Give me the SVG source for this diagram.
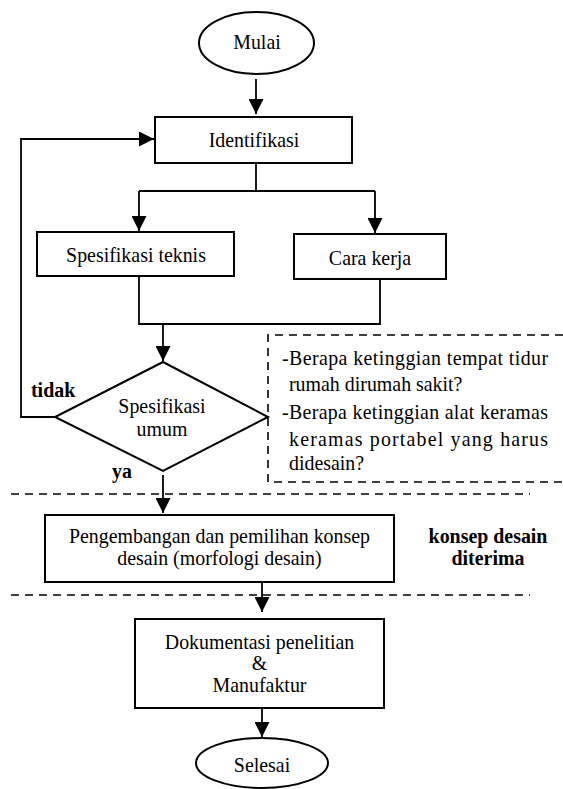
<svg xmlns="http://www.w3.org/2000/svg" width="563" height="789" viewBox="0 0 563 789">
<defs>
<style>
.box{fill:#fff;stroke:#000;stroke-width:2}
.ln{fill:none;stroke:#000;stroke-width:1.8}
.dash{fill:none;stroke:#000;stroke-width:1.6;stroke-dasharray:8 6}
text{font-family:'Liberation Serif','Times New Roman','DejaVu Serif',serif;font-size:19.9px;fill:#000}
.c{text-anchor:middle}
.b{font-weight:bold}
</style>
<marker id="ah" markerUnits="userSpaceOnUse" markerWidth="15" markerHeight="15" viewBox="0 0 15 15" refX="15" refY="7.5" orient="auto">
<path d="M0,0 L15,7.5 L0,15 z" fill="#000"/>
</marker>
</defs>
<rect width="563" height="789" fill="#fff"/>

<g id="connectors">
<line class="ln" x1="256" y1="79" x2="256" y2="114" marker-end="url(#ah)"/>
<polyline class="ln" points="55,417 21,417 21,139 154,139" marker-end="url(#ah)"/>
<polyline class="ln" points="256,163 256,191"/>
<polyline class="ln" points="139,191 375,191"/>
<line class="ln" x1="139" y1="191" x2="139" y2="231" marker-end="url(#ah)"/>
<line class="ln" x1="375" y1="191" x2="375" y2="233" marker-end="url(#ah)"/>
<polyline class="ln" points="139,276 139,324 380,324 380,277"/>
<line class="ln" x1="163" y1="324" x2="163" y2="361" marker-end="url(#ah)"/>
<line class="ln" x1="163" y1="475" x2="163" y2="513" marker-end="url(#ah)"/>
<line class="ln" x1="262" y1="582" x2="262" y2="612" marker-end="url(#ah)"/>
<line class="ln" x1="262" y1="708" x2="262" y2="737" marker-end="url(#ah)"/>
</g>

<g id="separators">
<line class="dash" x1="11" y1="494" x2="530" y2="494"/>
<line class="dash" x1="11" y1="595" x2="530" y2="595"/>
</g>

<g id="mulai">
<ellipse class="box" cx="256.5" cy="43" rx="57.5" ry="31"/>
<text class="c" x="257" y="49">Mulai</text>
</g>

<g id="identifikasi">
<rect class="box" x="155" y="117" width="197" height="46"/>
<text class="c" x="254" y="147">Identifikasi</text>
</g>

<g id="spesifikasi-teknis">
<rect class="box" x="37" y="232" width="197" height="44"/>
<text class="c" x="136" y="262">Spesifikasi teknis</text>
</g>

<g id="cara-kerja">
<rect class="box" x="294" y="234" width="152" height="45"/>
<text class="c" x="370" y="265">Cara kerja</text>
</g>

<g id="spesifikasi-umum">
<polygon class="box" points="163,362 268,417 163,471 55,417"/>
<text class="c" x="162" y="413">Spesifikasi</text>
<text class="c" x="162" y="436">umum</text>
</g>

<g id="labels">
<text class="b" x="31" y="397">tidak</text>
<text class="b" x="112" y="478">ya</text>
<text class="b c" x="488" y="543">konsep desain</text>
<text class="b c" x="488" y="565">diterima</text>
</g>

<g id="note">
<polyline class="dash" points="563,335 268,335 268,482 563,482"/>
<text x="282" y="365">-</text>
<text x="289" y="365" textLength="259" lengthAdjust="spacing">Berapa ketinggian tempat tidur</text>
<text x="289" y="391">rumah dirumah sakit?</text>
<text x="282" y="419">-</text>
<text x="289" y="419" textLength="259" lengthAdjust="spacing">Berapa ketinggian alat keramas</text>
<text x="289" y="446" textLength="259" lengthAdjust="spacing">keramas portabel yang harus</text>
<text x="289" y="470">didesain?</text>
</g>

<g id="pengembangan">
<rect class="box" x="45" y="515" width="349" height="67"/>
<text class="c" x="219.5" y="543">Pengembangan dan pemilihan konsep</text>
<text class="c" x="219.5" y="565">desain (morfologi desain)</text>
</g>

<g id="dokumentasi">
<rect class="box" x="135" y="619" width="249" height="89"/>
<text class="c" x="259.5" y="649">Dokumentasi penelitian</text>
<text class="c" x="259.5" y="670">&amp;</text>
<text class="c" x="259.5" y="692">Manufaktur</text>
</g>

<g id="selesai">
<ellipse class="box" cx="262" cy="763" rx="66" ry="25"/>
<text class="c" x="262" y="772">Selesai</text>
</g>
</svg>
